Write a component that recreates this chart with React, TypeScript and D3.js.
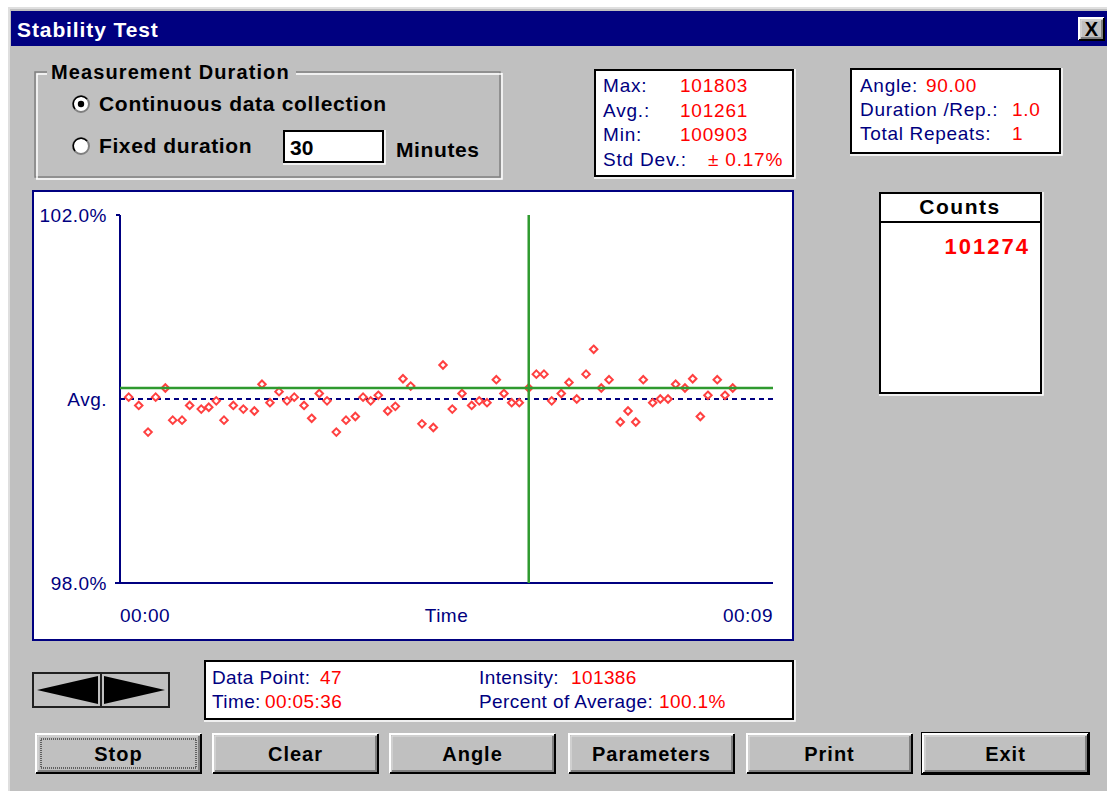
import React from 'react';
import * as d3 from 'd3';

// stability test readings: seconds since start, percent of average
const times = [
  7.2, 15.5, 23.2, 29.5, 37.5, 43.6, 51.3, 57.6, 67.2, 73.4, 79.6, 86.0,
  93.7, 102.0, 111.1, 117.4, 124.0, 131.5, 138.1, 144.1, 152.2, 158.5, 164.8, 171.2,
  178.9, 186.9, 194.6, 201.0, 207.3, 213.6, 221.4, 227.7, 234.0, 240.4, 249.7, 259.1,
  267.1, 274.8, 282.8, 290.8, 297.1, 303.5, 311.2, 317.5, 323.9, 330.2, 338.0, 344.3,
  350.6, 357.0, 364.9, 371.3, 377.7, 385.4, 391.7, 398.0, 404.4, 413.7, 420.1, 426.5,
  432.7, 440.5, 446.8, 453.2, 459.5, 467.2, 473.6, 479.9, 486.2, 493.9, 500.3, 506.7,
];
const percents = [
  100.02, 99.93, 99.64, 100.02, 100.12, 99.77, 99.77, 99.93, 99.89, 99.91, 99.98, 99.77,
  99.93, 99.89, 99.87, 100.16, 99.96, 100.08, 99.98, 100.02, 99.93, 99.79, 100.06, 99.98,
  99.64, 99.77, 99.81, 100.02, 99.98, 100.04, 99.87, 99.92, 100.22, 100.14, 99.73, 99.69,
  100.37, 99.89, 100.06, 99.93, 99.98, 99.96, 100.21, 100.06, 99.96, 99.96, 100.12, 100.27,
  100.27, 99.98, 100.06, 100.18, 100.0, 100.27, 100.54, 100.12, 100.21, 99.75, 99.87, 99.75,
  100.21, 99.96, 100.0, 100.0, 100.16, 100.12, 100.22, 99.81, 100.04, 100.21, 100.04, 100.12,
];
const selectedPoint = 47;

const yTicks = [98, 100, 102];
const yTickLabels = ['98.0%', 'Avg.', '102.0%'];
const xTickLabels = ['00:00', 'Time', '00:09'];

const statLabels = ['Max:', 'Avg.:', 'Min:', 'Std Dev.:'];
const statValues = ['101803', '101261', '100903', '± 0.17%'];
const paramLabels = ['Angle:', 'Duration /Rep.:', 'Total Repeats:'];
const paramValues = ['90.00', '1.0', '1'];
const countsValue = '101274';
const infoLabels = ['Data Point:', 'Time:', 'Intensity:', 'Percent of Average:'];
const infoValues = ['47', '00:05:36', '101386', '100.1%'];
const buttonLabels = ['Stop', 'Clear', 'Angle', 'Parameters', 'Print', 'Exit'];

const FONT = '"Liberation Sans", Arial, sans-serif';
const NAVY = '#000080';
const RED = '#ff0000';

const Button = ({ x, y, w, h, label, focus, isDefault }) => (
  <g>
    {isDefault && <rect x={x - 1} y={y - 1} width={w + 2} height={h + 2} fill="none" stroke="#000" strokeWidth={2} />}
    <rect x={x} y={y} width={w} height={h} fill="#c0c0c0" />
    <path d={`M${x},${y + h} V${y} H${x + w}`} stroke="#fff" strokeWidth={2} fill="none" />
    <path d={`M${x + 2},${y + h - 2} V${y + 2} H${x + w - 2}`} stroke="#dfdfdf" strokeWidth={1} fill="none" />
    <path d={`M${x},${y + h} H${x + w} V${y}`} stroke="#000" strokeWidth={2} fill="none" />
    <path d={`M${x + 2},${y + h - 2} H${x + w - 2} V${y + 2}`} stroke="#808080" strokeWidth={2} fill="none" />
    {focus && <rect x={x + 5} y={y + 5} width={w - 10} height={h - 10} fill="none" stroke="#000" strokeDasharray="1,1" />}
    <text x={x + w / 2} y={y + h / 2 + 7} textAnchor="middle" fontFamily={FONT} fontWeight="bold" fontSize={20} letterSpacing={1}>{label}</text>
  </g>
);

const Box = ({ x, y, w, h }) => (
  <g>
    <rect x={x} y={y} width={w} height={h} fill="#fff" stroke="#000" strokeWidth={2} />
    <path d={`M${x - 1},${y + h + 2} H${x + w + 2} V${y - 1}`} stroke="#fff" strokeWidth={1.5} fill="none" />
  </g>
);

const App = () => {
  const x = d3.scaleLinear().domain([0, 540]).range([120, 773]);
  const y = d3.scaleLinear().domain([98, 102]).range([583, 215]);
  const marker = d3.symbol(d3.symbolDiamond2, 36)();
  const sx = x(times[selectedPoint - 1]);
  const sy = y(percents[selectedPoint - 1]);
  const btnX = [36, 213, 390, 569, 747, 923];

  return (
    <svg width={1107} height={791} style={{ position: 'absolute', left: 0, top: 0 }}>
      <rect width={1107} height={791} fill="#fff" />
      {/* dialog frame */}
      <rect x={8} y={7} width={1110} height={800} fill="#c0c0c0" />
      <path d="M9,800 V8 H1107" stroke="#dfdfdf" strokeWidth={2} fill="none" />
      <rect x={11} y={11} width={1096} height={35} fill={NAVY} />
      <text x={17} y={37} fill="#fff" fontFamily={FONT} fontWeight="bold" fontSize={21} letterSpacing={0.9}>Stability Test</text>
      <Button x={1079} y={18} w={25} h={22} label="" />
      <text x={1091.5} y={36} textAnchor="middle" fontFamily={FONT} fontWeight="bold" fontSize={20}>X</text>

      {/* measurement duration group */}
      <path d="M47,72 H35 V177 H500 V72 H296" stroke="#808080" strokeWidth={1.5} fill="none" />
      <path d="M47,74 H37 V179 M36,179 H502 V73 M502,74 H296" stroke="#fff" strokeWidth={1.5} fill="none" />
      <text x={51} y={79} fontFamily={FONT} fontWeight="bold" fontSize={20} letterSpacing={1.1}>Measurement Duration</text>
      {[104, 146].map((cy, i) => (
        <g key={cy}>
          <circle cx={81} cy={cy} r={8} fill="#fff" stroke="#808080" strokeWidth={2} />
          <path d={`M${75},${cy + 5} A7,7 0 0 1 ${87},${cy - 5}`} stroke="#000" strokeWidth={1.5} fill="none" />
          {i === 0 && <circle cx={81} cy={cy} r={3.2} fill="#000" />}
        </g>
      ))}
      <text x={99} y={111} fontFamily={FONT} fontWeight="bold" fontSize={21} letterSpacing={0.7}>Continuous data collection</text>
      <text x={99} y={153} fontFamily={FONT} fontWeight="bold" fontSize={21} letterSpacing={0.6}>Fixed duration</text>
      <Box x={284} y={131} w={99} h={31} />
      <text x={290} y={155} fontFamily={FONT} fontWeight="bold" fontSize={21}>30</text>
      <text x={396} y={157} fontFamily={FONT} fontWeight="bold" fontSize={21} letterSpacing={0.6}>Minutes</text>

      {/* statistics */}
      <Box x={595} y={70} w={198} h={106} />
      {statLabels.map((s, i) => (
        <g key={s} fontFamily={FONT} fontSize={19} letterSpacing={0.8}>
          <text x={603} y={92 + i * 24.5} fill={NAVY}>{s}</text>
          <text x={i === 3 ? 708 : 680} y={92 + i * 24.5} fill={RED}>{statValues[i]}</text>
        </g>
      ))}
      <Box x={851} y={69} w={209} h={84} />
      {paramLabels.map((s, i) => (
        <g key={s} fontFamily={FONT} fontSize={19} letterSpacing={0.7}>
          <text x={860} y={92 + i * 24} fill={NAVY}>{s}</text>
          <text x={i === 0 ? 926 : 1012} y={92 + i * 24} fill={RED}>{paramValues[i]}</text>
        </g>
      ))}

      {/* counts */}
      <Box x={880} y={193} w={161} h={200} />
      <line x1={880} x2={1041} y1={222} y2={222} stroke="#000" strokeWidth={2} />
      <text x={960} y={214} textAnchor="middle" fontFamily={FONT} fontWeight="bold" fontSize={21} letterSpacing={1.5}>Counts</text>
      <text x={1030} y={254} textAnchor="end" fill={RED} fontFamily={FONT} fontWeight="bold" fontSize={22} letterSpacing={2}>{countsValue}</text>

      {/* chart */}
      <rect x={33} y={191} width={760} height={449} fill="#fff" stroke={NAVY} strokeWidth={2} />
      <line x1={120} x2={120} y1={y(102)} y2={y(98)} stroke={NAVY} strokeWidth={2} />
      <line x1={115} x2={x(540)} y1={y(98)} y2={y(98)} stroke={NAVY} strokeWidth={2} />
      <line x1={116} x2={120} y1={y(102)} y2={y(102)} stroke={NAVY} strokeWidth={2} />
      <line x1={120} x2={x(540)} y1={y(100)} y2={y(100)} stroke={NAVY} strokeWidth={2} strokeDasharray="5,4" />
      {yTicks.map((t, i) => (
        <text key={t} x={107} y={y(t) + 7} textAnchor="end" fill={NAVY} fontFamily={FONT} fontSize={19} letterSpacing={0.5}>{yTickLabels[i]}</text>
      ))}
      {[0, 270, 540].map((t, i) => (
        <text key={t} x={x(t)} y={622} textAnchor={i === 0 ? 'start' : i === 1 ? 'middle' : 'end'} fill={NAVY} fontFamily={FONT} fontSize={19} letterSpacing={0.5}>{xTickLabels[i]}</text>
      ))}
      {times.map((t, i) => (
        <path key={i} d={marker} transform={`translate(${x(t)},${y(percents[i])})`} fill="#fff" stroke="#ff4040" strokeWidth={2} />
      ))}
      <line x1={120} x2={x(540)} y1={sy} y2={sy} stroke="#2f9a2f" strokeWidth={2.5} />
      <line x1={sx} x2={sx} y1={y(102)} y2={y(98)} stroke="#2f9a2f" strokeWidth={2.5} />

      {/* navigation arrows */}
      <rect x={33} y={673} width={136} height={34} fill="#c0c0c0" stroke="#202020" strokeWidth={2} />
      <line x1={101} x2={101} y1={673} y2={707} stroke="#202020" strokeWidth={2} />
      <polygon points="37,690 98,676 98,704" fill="#000" />
      <polygon points="165,690 104,676 104,704" fill="#000" />

      {/* data point info */}
      <Box x={205} y={661} w={588} h={58} />
      {infoLabels.map((s, i) => {
        const lx = i < 2 ? 212 : 479;
        const vx = [320, 265, 571, 659][i];
        const by = 684 + (i % 2) * 24;
        return (
          <g key={s} fontFamily={FONT} fontSize={19} letterSpacing={0.4}>
            <text x={lx} y={by} fill={NAVY}>{s}</text>
            <text x={vx} y={by} fill={RED}>{infoValues[i]}</text>
          </g>
        );
      })}

      {buttonLabels.map((b, i) => (
        <Button key={b} x={btnX[i]} y={734} w={165} h={39} label={b} focus={i === 0} isDefault={i === 5} />
      ))}
    </svg>
  );
};

export default App;
